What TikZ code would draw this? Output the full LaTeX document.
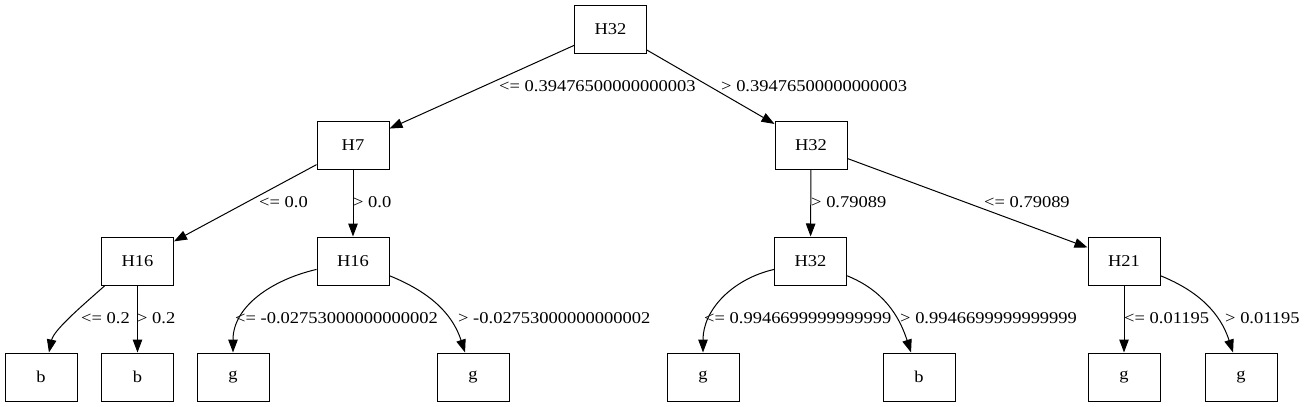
\documentclass[tikz,border=0pt]{standalone}
\usepackage{fontspec}
\setmainfont{Liberation Serif}[FakeStretch=1.12]
\usepackage{xcolor}
\usetikzlibrary{arrows.meta}

\tikzset{
    treenode/.style={draw, line width=1pt, minimum width=72pt, minimum height=48pt,
        inner sep=0pt, font=\fontsize{16.5}{18}\selectfont},
    splitlbl/.style={anchor=west, inner sep=0pt, font=\fontsize{16.5}{18}\selectfont},
    branch/.style={->, line width=1pt},
}

\begin{document}
\begin{tikzpicture}[x=1pt, y=1pt, >={Triangle[length=13pt, width=9.5pt]}]
        % --- Cadre ---
        \fill[white] (0,0) rectangle (1307,-407);
        \useasboundingbox (0,0) rectangle (1307,-407);

        % --- Noeuds internes ---
        \node[treenode] (root) at (610.5,-29) {H32};
        \node[treenode] (h7)   at (353,-145)  {H7};
        \node[treenode] (h32r) at (811,-145)  {H32};
        \node[treenode] (h16l) at (137.5,-261) {H16};
        \node[treenode] (h16m) at (353,-261)  {H16};
        \node[treenode] (h32m) at (810.5,-261) {H32};
        \node[treenode] (h21)  at (1124,-261) {H21};

        % --- Feuilles ---
        \node[treenode] (leafa) at (41,-377)    {b};
        \node[treenode] (leafb) at (137.5,-377) {b};
        \node[treenode] (leafc) at (233,-377)   {g};
        \node[treenode] (leafd) at (473,-377)   {g};
        \node[treenode] (leafe) at (703,-377)   {g};
        \node[treenode] (leaff) at (919,-377)   {b};
        \node[treenode] (leafg) at (1124,-377)  {g};
        \node[treenode] (leafh) at (1241,-377)  {g};

        % --- Branches ---
        \draw[branch] (root) -- (h7);
        \draw[branch] (root) -- (h32r);
        \draw[branch] (h7) -- (h16l);
        \draw[branch] (h7) -- (h16m);
        \draw[branch] (h32r) -- (h32m);
        \draw[branch] (h32r) -- (h21);

        \draw[branch] (h16l.-143) to[out=-138, in=78, looseness=0.7] (leafa.72);
        \draw[branch] (h16l) -- (leafb);
        \draw[branch] (h16m) to[out=193, in=90] (leafc);
        \draw[branch] (h16m) to[out=-22, in=108] (leafd);
        \draw[branch] (h32m) to[out=193, in=90] (leafe);
        \draw[branch] (h32m) to[out=-22, in=108] (leaff);
        \draw[branch] (h21) -- (leafg);
        \draw[branch] (h21) to[out=-22, in=108] (leafh);

        % --- Seuils ---
        \node[splitlbl] (s1)  at (499,-86)  {<= 0.39476500000000003};
        \node[splitlbl] (s2)  at (721,-86)  {> 0.39476500000000003};
        \node[splitlbl] (s3)  at (259,-202) {<= 0.0};
        \node[splitlbl] (s4)  at (353,-202) {> 0.0};
        \node[splitlbl] (s5)  at (811,-202) {> 0.79089};
        \node[splitlbl] (s6)  at (984,-202) {<= 0.79089};
        \node[splitlbl] (s7)  at (81,-318)  {<= 0.2};
        \node[splitlbl] (s8)  at (137,-318) {> 0.2};
        \node[splitlbl] (s9)  at (235,-318) {<= -0.02753000000000002};
        \node[splitlbl] (s10) at (458,-318) {> -0.02753000000000002};
        \node[splitlbl] (s11) at (704,-318) {<= 0.9946699999999999};
        \node[splitlbl] (s12) at (900,-318) {> 0.9946699999999999};
        \node[splitlbl] (s13) at (1124,-318) {<= 0.01195};
        \node[splitlbl] (s14) at (1225,-318) {> 0.01195};
    \end{tikzpicture}
\end{document}
